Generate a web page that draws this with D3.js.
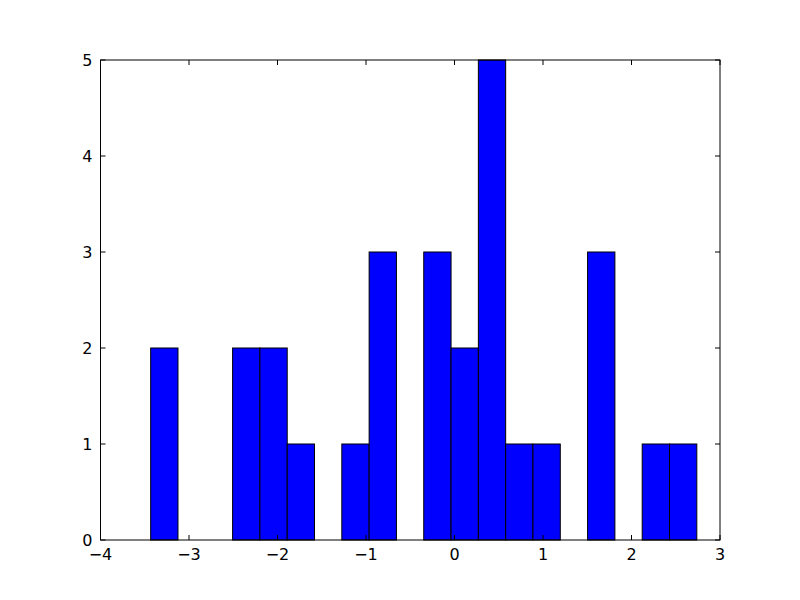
<!DOCTYPE html>
<html><head><meta charset="utf-8">
<script src="https://cdn.jsdelivr.net/npm/d3@7"></script>
<style>body{margin:0;background:#fff}svg{display:block}text{font-family:"DejaVu Sans",sans-serif;}</style>
</head><body>
<svg id="c" width="800" height="600"></svg>
<script>
const binStart = -3.433;
const binEnd = 2.738;
const counts = [2,0,0,2,2,1,0,1,3,0,3,2,5,1,1,0,3,0,1,1];
const xTicks = [-4,-3,-2,-1,0,1,2,3];
const yTicks = [0,1,2,3,4,5];

const svg = d3.select("#c");
const m = {l:100.5, r:720, t:60, b:540};
const x = d3.scaleLinear().domain([-4,3]).range([m.l, m.r]);
const y = d3.scaleLinear().domain([0,5]).range([m.b, m.t]);
const w = (binEnd - binStart)/counts.length;
const bins = counts.map((c,i)=>({x0: binStart + i*w, x1: binStart + (i+1)*w, c}));

svg.append("g").selectAll("rect").data(bins.filter(d=>d.c>0)).join("rect")
  .attr("x", d=>x(d.x0)).attr("width", d=>x(d.x1)-x(d.x0))
  .attr("y", d=>y(d.c)).attr("height", d=>y(0)-y(d.c))
  .attr("fill","#0000ff").attr("stroke","#000").attr("stroke-width",1);

const tl = 5;
const fmt = d3.format("d");
// bottom
const gb = svg.append("g");
xTicks.forEach(t=>{
  gb.append("line").attr("x1",x(t)).attr("x2",x(t)).attr("y1",m.b).attr("y2",m.b-tl).attr("stroke","#000");
  gb.append("line").attr("x1",x(t)).attr("x2",x(t)).attr("y1",m.t).attr("y2",m.t+tl).attr("stroke","#000");
  gb.append("text").attr("x",x(t)).attr("y",m.b+20).attr("text-anchor","middle").attr("font-size",16).text(fmt(t));
});
yTicks.forEach(t=>{
  gb.append("line").attr("x1",m.l).attr("x2",m.l+tl).attr("y1",y(t)).attr("y2",y(t)).attr("stroke","#000");
  gb.append("line").attr("x1",m.r).attr("x2",m.r-tl).attr("y1",y(t)).attr("y2",y(t)).attr("stroke","#000");
  gb.append("text").attr("x",m.l-8).attr("y",y(t)).attr("dy","0.35em").attr("text-anchor","end").attr("font-size",16).text(fmt(t));
});
svg.append("rect").attr("x",m.l).attr("y",m.t).attr("width",m.r-m.l).attr("height",m.b-m.t)
  .attr("fill","none").attr("stroke","#000").attr("stroke-width",1);
</script>
</body></html>
